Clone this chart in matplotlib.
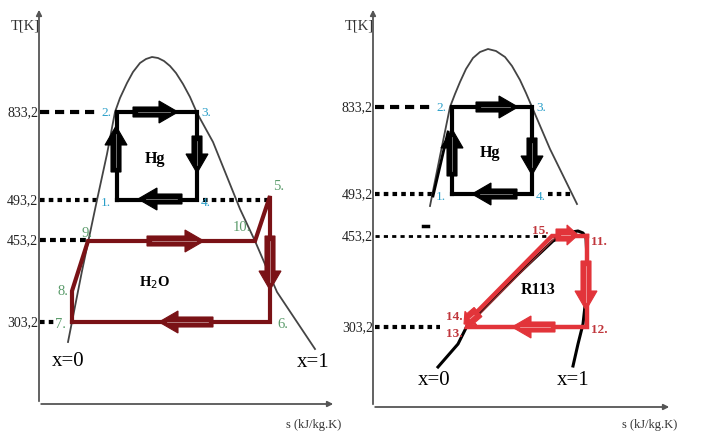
import numpy as np
import matplotlib.pyplot as plt
from matplotlib.patches import Polygon

plt.rcParams['font.family'] = ['Liberation Serif', 'DejaVu Serif']

# temperature levels (schematic axis, one label per level)
t_labels = ['833,2', '493,2', '453,2', '303,2']
t_y_left = [113, 201, 241, 323]
t_y_right = [108, 195, 237, 328]

# saturation domes (s, T in sketch units)
hg_dome_l_s = [68, 82, 97, 107, 115, 120, 127, 133, 140, 146, 152, 158, 164, 170, 176, 183, 190,
               197, 213, 240, 255, 277, 315]
hg_dome_l_t = [343, 272, 201, 155, 113, 99, 84, 73, 64, 60, 58, 59, 62, 67, 74, 85, 98,
               114, 143, 210, 242, 293, 350]
hg_dome_r_s = [430, 440, 450, 455, 460, 466, 473, 480, 488, 496, 505, 512, 520, 526, 532, 550, 577]
hg_dome_r_t = [207, 157, 108, 95, 83, 70, 59, 53, 50, 52, 58, 67, 81, 94, 108, 150, 205]
r113_dome_s = [438, 458, 468, 500, 553, 565, 572, 578, 583, 586, 587, 586, 583, 578, 573]
r113_dome_t = [368, 345, 325, 292, 242, 236, 233, 232, 234, 239, 260, 298, 325, 345, 367]

# mercury cycle: states 1, 2, 3, 4
hg_l_s = [117, 117, 197, 197]
hg_l_t = [201, 113, 113, 201]
hg_r_s = [452, 452, 532, 532]
hg_r_t = [195, 108, 108, 195]

# water cycle: states 7, 8, 9, 10, 5, 6
w_states = ['7.', '8.', '9.', '10.', '5.', '6.']
w_s = [72, 72, 88, 255, 270, 270]
w_t = [323, 292, 242, 242, 197, 323]

# R113 cycle: states 11, 12, 13, 14, 15
r_states = ['11.', '12.', '13.', '14.', '15.']
r_s = [587, 587, 467, 469, 552]
r_t = [237, 328, 328, 321, 237]

C_HG_LBL = '#2a9fc9'
C_W = '#7a1216'
C_W_LBL = '#5c9c6c'
C_R = '#e2343a'
C_R_LBL = '#c0363c'
C_AX = '#555555'

fig = plt.figure(figsize=(7.03, 4.39), dpi=100)
ax = fig.add_axes([0, 0, 1, 1])
ax.set_xlim(0, 703)
ax.set_ylim(439, 0)
ax.axis('off')


def block_arrow(x, y, dx, dy, color, w=10, hw=22, hl=19):
    # solid block arrow built as one polygon
    n = np.hypot(dx, dy)
    ux, uy = dx / n, dy / n
    px, py = -uy, ux
    body = n - hl
    pts = [(0, w / 2), (body, w / 2), (body, hw / 2), (n, 0),
           (body, -hw / 2), (body, -w / 2), (0, -w / 2)]
    verts = [(x + a * ux + b * px, y + a * uy + b * py) for a, b in pts]
    ax.add_patch(Polygon(verts, closed=True, facecolor=color, edgecolor=color,
                         linewidth=0.8, zorder=6))
    ax.plot([x + ux * 5, x + dx - ux * 8], [y + uy * 5, y + dy - uy * 8],
            color='white', lw=0.5, alpha=0.6, zorder=7)


# axes of both panels
for x0, x1, ytop, ybot in [(39, 336, 8, 405), (373, 672, 8, 408)]:
    ax.annotate('', xy=(x0, ytop), xytext=(x0, ybot),
                arrowprops=dict(arrowstyle='-|>', color=C_AX, lw=1.3, mutation_scale=8))
    ax.annotate('', xy=(x1, ybot), xytext=(x0 - 0.6, ybot),
                arrowprops=dict(arrowstyle='-|>', color=C_AX, lw=1.3, mutation_scale=8))
    ax.text(x0 - 14, 26, 'T[K]', fontsize=10.5, ha='center', va='center', color='#333')
    ax.text(x1 - 22, 425, 's (kJ/kg.K)', fontsize=9, ha='center', va='center', color='#333')

# temperature level labels and guide lines
dash_styles = [(0, (2.2, 1.4)), (0, (1.1, 1.0)), (0, (1.4, 1.0)), (0, (1.1, 1.0))]
left_ends = [97, 97, 88, 57]
right_ends = [435, 432, 550, 440]
for lab, yl, yr, ds, xl, xr in zip(t_labels, t_y_left, t_y_right, dash_styles, left_ends, right_ends):
    ax.text(38, yl, lab, fontsize=10, ha='right', va='center', color='#222')
    ax.plot([40, xl], [yl, yl], color='black', lw=3, linestyle=ds)
    ax.text(373, yr, lab, fontsize=10, ha='right', va='center', color='#222')
    lw_r = 2 if lab == '453,2' else 3
    ax.plot([375, xr], [yr, yr], color='black', lw=lw_r, linestyle=ds if lab != '453,2' else (0, (1.5, 1.5)))
ax.plot([203, 270], [t_y_left[1], t_y_left[1]], color='black', lw=3, linestyle=(0, (1.1, 1.0)))
ax.plot([548, 572], [t_y_right[1], t_y_right[1]], color='black', lw=3, linestyle=(0, (1.1, 1.0)))
ax.plot([423, 428], [227, 227], color='black', lw=2.5)

# domes
ax.plot(hg_dome_l_s, hg_dome_l_t, color='#444', lw=1.3, zorder=2)
ax.plot(hg_dome_r_s, hg_dome_r_t, color='#444', lw=1.3, zorder=2)
ax.plot([433, 448], [197, 133], color='black', lw=2, zorder=2)
ax.plot(r113_dome_s, r113_dome_t, color='black', lw=2.2, zorder=2)

# mercury cycles
for s, t in [(hg_l_s, hg_l_t), (hg_r_s, hg_r_t)]:
    ax.plot(s + s[:1], t + t[:1], color='black', lw=3, zorder=5, solid_joinstyle='miter')
    for i, lab in enumerate(['1.', '2.', '3.', '4.']):
        dx = -6 if i < 2 else 4
        ax.text(s[i] + dx, t[i] + (2 if i in (0, 3) else 0), lab, fontsize=9.5,
                color=C_HG_LBL, ha='left' if i >= 2 else 'right', va='center')
    ax.text((s[0] + s[2]) / 2 - 2, (t[0] + t[1]) / 2 + 2, 'Hg', fontsize=11.5,
            fontweight='bold', ha='center', va='center')

block_arrow(133, 113, 45, 0, 'black')
block_arrow(197, 137, 0, 37, 'black')
block_arrow(182, 200, -44, 0, 'black')
block_arrow(116, 173, 0, -46, 'black')
block_arrow(476, 108, 42, 0, 'black')
block_arrow(532, 139, 0, 37, 'black')
block_arrow(517, 195, -45, 0, 'black')
block_arrow(452, 177, 0, -47, 'black')

# water cycle
ax.plot(w_s + w_s[:1], w_t + w_t[:1], color=C_W, lw=3, zorder=5, solid_joinstyle='miter')
w_off = {'7.': (-6, 2, 'right'), '8.': (-4, 0, 'right'), '9.': (-6, -8, 'left'),
         '10.': (-22, -14, 'left'), '5.': (3, -10, 'left'), '6.': (7, 2, 'left')}
for lab, s, t in zip(w_states, w_s, w_t):
    dx, dy, ha = w_off[lab]
    ax.text(s + dx, t + dy, lab, fontsize=10.5, color=C_W_LBL, ha=ha, va='center')
block_arrow(147, 242, 57, 0, C_W)
block_arrow(270, 237, 0, 54, C_W)
block_arrow(213, 323, -54, 0, C_W)
ax.text(155, 283, 'H$_{2}$O', fontsize=10.5, fontweight='bold', ha='center', va='center')
ax.text(68, 362, 'x=0', fontsize=15, ha='center', va='center')
ax.text(313, 363, 'x=1', fontsize=15, ha='center', va='center')

# R113 cycle
ax.plot(r_s + r_s[:1], r_t + r_t[:1], color=C_R, lw=3.2, zorder=5, solid_joinstyle='miter')
ax.plot([r_s[3] + 3, r_s[4] + 3], [r_t[3] + 2, r_t[4] + 2], color='#8c2a2a', lw=1, zorder=5)
r_off = {'11.': (4, 5, 'left'), '12.': (4, 2, 'left'), '13.': (-4, 6, 'right'),
         '14.': (-6, -4, 'right'), '15.': (-3, -6, 'right')}
for lab, s, t in zip(r_states, r_s, r_t):
    dx, dy, ha = r_off[lab]
    ax.text(s + dx, t + dy, lab, fontsize=9.5, color=C_R_LBL, fontweight='bold', ha=ha, va='center')
block_arrow(556, 236, 22, 0, C_R, w=12, hw=20, hl=11)
block_arrow(586, 262, 0, 49, C_R)
block_arrow(555, 328, -43, 0, C_R)
block_arrow(478, 313, -14, 12, C_R, w=12, hw=18, hl=9)
ax.text(538, 290, 'R113', fontsize=11.5, fontweight='bold', ha='center', va='center')
ax.text(434, 381, 'x=0', fontsize=15, ha='center', va='center')
ax.text(573, 381, 'x=1', fontsize=15, ha='center', va='center')

fig.savefig('out.png', dpi=100, facecolor='white')
